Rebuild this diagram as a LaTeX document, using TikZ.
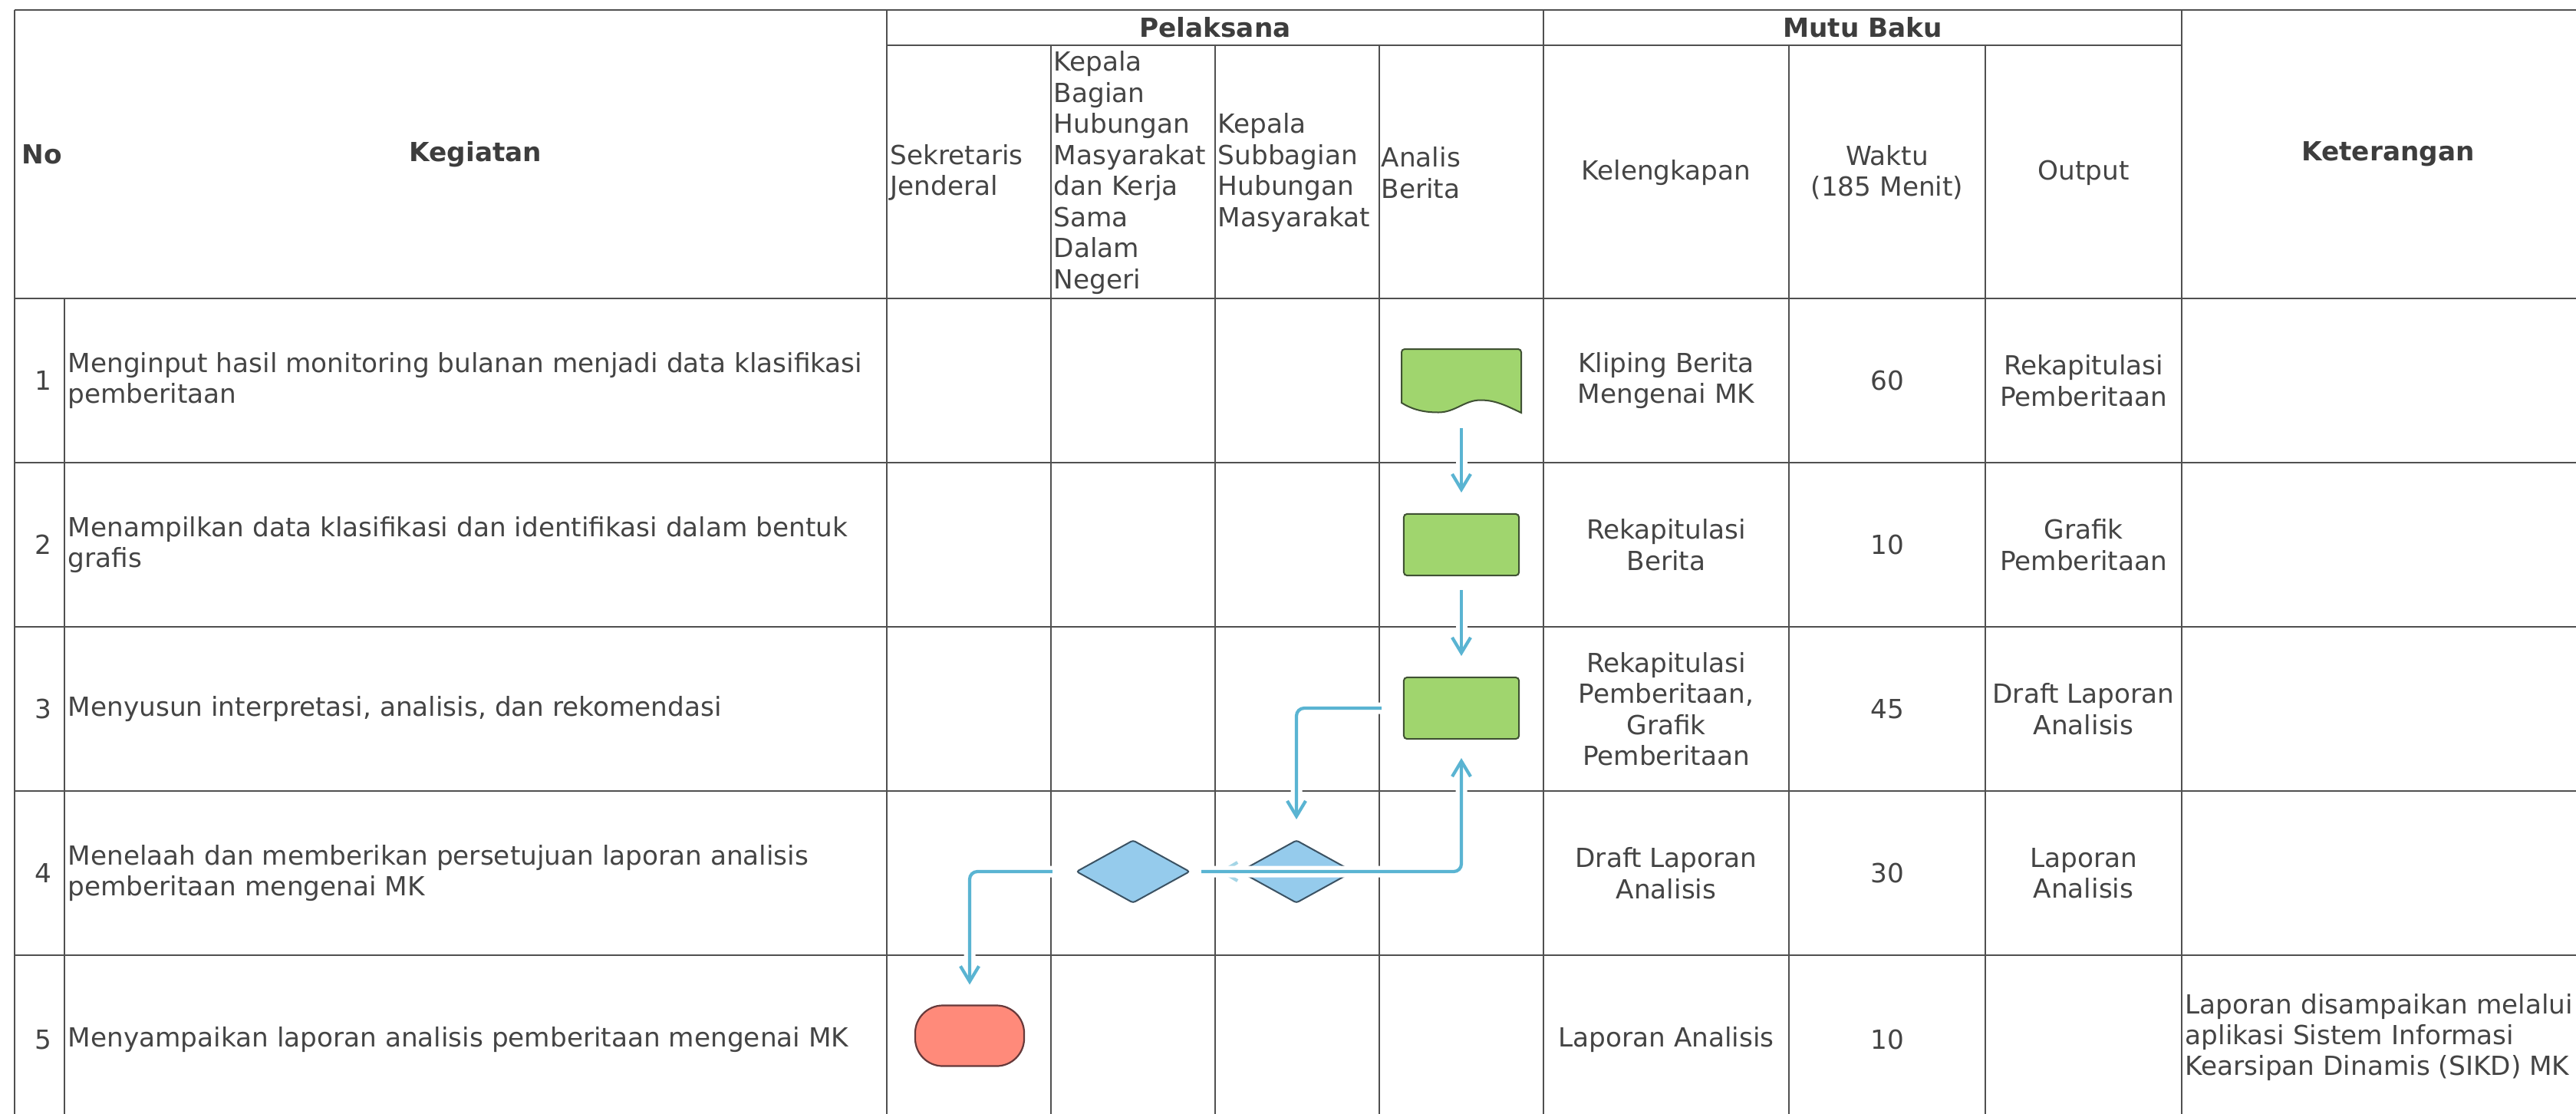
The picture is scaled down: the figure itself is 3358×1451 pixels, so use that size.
\documentclass[tikz,border=0pt]{standalone}
\usepackage{fontspec}
\setmainfont{DejaVu Sans}
\usetikzlibrary{shapes.geometric,arrows.meta}
\definecolor{gridc}{HTML}{505050}
\definecolor{textc}{HTML}{444444}
\definecolor{greenf}{HTML}{A0D56E}
\definecolor{greend}{HTML}{3F5133}
\definecolor{bluef}{HTML}{95CBEC}
\definecolor{blued}{HTML}{3B5263}
\definecolor{redf}{HTML}{FF8A7A}
\definecolor{redd}{HTML}{66393A}
\definecolor{connc}{HTML}{5AB4D2}
\tikzset{
  gridv/.style={draw=gridc, line width=0.02cm},
  gridh/.style={draw=gridc, line width=0.026cm},
  txt/.style={font=\fontsize{9.75pt}{11.5pt}\selectfont, text=textc, inner sep=0pt},
  lft/.style={txt, align=left, anchor=west},
  ctr/.style={txt, align=center},
  hdr/.style={txt, font=\fontsize{9.75pt}{11.5pt}\selectfont\bfseries, text=textc!90!black},
  proc/.style={draw=greend, fill=greenf, line width=0.02cm, rounded corners=0.04cm, minimum width=1.50cm, minimum height=0.80cm, inner sep=0pt},
  greenshape/.style={draw=greend, fill=greenf, line width=0.02cm},
  dia/.style={diamond, draw=blued, fill=bluef, line width=0.02cm, rounded corners=0.03cm, minimum width=1.48cm, minimum height=0.82cm, inner sep=0pt},
  term/.style={draw=redd, fill=redf, line width=0.022cm, rounded corners=0.36cm, minimum width=1.42cm, minimum height=0.79cm, inner sep=0pt},
  conn/.style={draw=connc, line width=0.042cm, rounded corners=0.1cm, -{Straight Barb[length=0.2cm,width=0.24cm]}},
  halo/.style={draw=white, line width=0.15cm, rounded corners=0.1cm}
}
\begin{document}
\begin{tikzpicture}[x=0.01cm, y=-0.01cm]
\useasboundingbox (0,0) rectangle (3358,1451);
\clip (0,0) rectangle (3358,1451);
\fill[white] (0,0) rectangle (3358,1451);

% ---------- grid ----------
\draw[gridh] (19,13) -- (3382,13);
\draw[gridh] (1156,59) -- (2844,59);
\foreach \yy in {389,603,817,1031,1245,1459}
  \draw[gridh] (19,\yy) -- (3382,\yy);
\foreach \xx in {19,1156,2012,2844,3382}
  \draw[gridv] (\xx,13) -- (\xx,1459);
\foreach \xx in {1370,1584,1798,2332,2588}
  \draw[gridv] (\xx,59) -- (\xx,1459);
\draw[gridv] (84,389) -- (84,1459);

% ---------- header ----------
\node[hdr, anchor=west] (hNo) at (28,201) {No};
\node[hdr] (hKeg) at (620,201) {Kegiatan};
\node[hdr] (hPel) at (1584,36) {Pelaksana};
\node[hdr] (hMutu) at (2428,36) {Mutu Baku};
\node[hdr] (hKet) at (3113,201) {Keterangan};
\node[lft] (hSek) at (1160,225) {Sekretaris\\Jenderal};
\node[lft] (hKab) at (1373,225) {Kepala\\Bagian\\Hubungan\\Masyarakat\\dan Kerja\\Sama\\Dalam\\Negeri};
\node[lft] (hKas) at (1587,225) {Kepala\\Subbagian\\Hubungan\\Masyarakat};
\node[lft] (hAna) at (1800,225) {Analis\\Berita};
\node[ctr] (hKel) at (2172,225) {Kelengkapan};
\node[ctr] (hWak) at (2460,225) {Waktu\\(185 Menit)};
\node[ctr] (hOut) at (2716,225) {Output};

% ---------- row 1 ----------
\node[ctr] (n1) at (56,496) {1};
\node[lft] (k1) at (88,496) {Menginput hasil monitoring bulanan menjadi data klasifikasi\\pemberitaan};
\node[ctr] (kel1) at (2172,496) {Kliping Berita\\Mengenai MK};
\node[ctr] (w1) at (2460,496) {60};
\node[ctr] (o1) at (2716,496) {Rekapitulasi\\Pemberitaan};
% ---------- row 2 ----------
\node[ctr] (n2) at (56,710) {2};
\node[lft] (k2) at (88,710) {Menampilkan data klasifikasi dan identifikasi dalam bentuk\\grafis};
\node[ctr] (kel2) at (2172,710) {Rekapitulasi\\Berita};
\node[ctr] (w2) at (2460,710) {10};
\node[ctr] (o2) at (2716,710) {Grafik\\Pemberitaan};
% ---------- row 3 ----------
\node[ctr] (n3) at (56,924) {3};
\node[lft] (k3) at (88,924) {Menyusun interpretasi, analisis, dan rekomendasi};
\node[ctr] (kel3) at (2172,924) {Rekapitulasi\\Pemberitaan,\\Grafik\\Pemberitaan};
\node[ctr] (w3) at (2460,924) {45};
\node[ctr] (o3) at (2716,924) {Draft Laporan\\Analisis};
% ---------- row 4 ----------
\node[ctr] (n4) at (56,1138) {4};
\node[lft] (k4) at (88,1138) {Menelaah dan memberikan persetujuan laporan analisis\\pemberitaan mengenai MK};
\node[ctr] (kel4) at (2172,1138) {Draft Laporan\\Analisis};
\node[ctr] (w4) at (2460,1138) {30};
\node[ctr] (o4) at (2716,1138) {Laporan\\Analisis};
% ---------- row 5 ----------
\node[ctr] (n5) at (56,1355) {5};
\node[lft] (k5) at (88,1355) {Menyampaikan laporan analisis pemberitaan mengenai MK};
\node[ctr] (kel5) at (2172,1355) {Laporan Analisis};
\node[ctr] (w5) at (2460,1355) {10};
\node[lft] (ket5) at (2848,1352) {Laporan disampaikan melalui\\aplikasi Sistem Informasi\\Kearsipan Dinamis (SIKD) MK};

% ---------- shapes ----------
\node[draw=none, minimum width=1.56cm, minimum height=0.83cm, inner sep=0pt] (doc1) at (1905,496.5) {};
\begin{scope}[shift={(doc1.center)}]
  \draw[greenshape] (-78,28.5) [rounded corners=0.04cm] -- (-78,-41.5) -- (78,-41.5) -- (78,0) [sharp corners] -- (78,41.5)
     .. controls (58,32) and (44,25) .. (25,25)
     .. controls (4,25) and (-8,41) .. (-30,41)
     .. controls (-52,41) and (-66,36) .. (-78,28.5) -- cycle;
\end{scope}
\node[proc] (p2) at (1905,710) {};
\node[proc] (p3) at (1905,923) {};
\node[dia] (dA) at (1477,1136) {};
\node[dia] (dB) at (1690,1136) {};
\node[term] (t5) at (1264,1350) {};

% ---------- connectors ----------
\draw[halo, shorten <=0.19cm, shorten >=0.27cm] (doc1.south) -- (p2.north);
\draw[conn, shorten <=0.19cm, shorten >=0.27cm] (doc1.south) -- (p2.north);
\draw[halo, shorten <=0.18cm, shorten >=0.27cm] (p2.south) -- (p3.north);
\draw[conn, shorten <=0.18cm, shorten >=0.27cm] (p2.south) -- (p3.north);
\draw[halo, shorten <=0.28cm, shorten >=0.26cm] (p3.west) -| (dB.north);
\draw[conn, shorten <=0.28cm, shorten >=0.26cm] (p3.west) -| (dB.north);
\draw[conn, draw opacity=0.55, shorten >=0.37cm] (dB.west) -- (dA.east);
\draw[halo, shorten <=0.14cm, shorten >=0.24cm] (dA.east) -| (p3.south);
\draw[conn, shorten <=0.14cm, shorten >=0.24cm] (dA.east) -| (p3.south);
\draw[halo, shorten <=0.30cm, shorten >=0.26cm] (dA.west) -| (t5.north);
\draw[conn, shorten <=0.30cm, shorten >=0.26cm] (dA.west) -| (t5.north);
\end{tikzpicture}
\end{document}
